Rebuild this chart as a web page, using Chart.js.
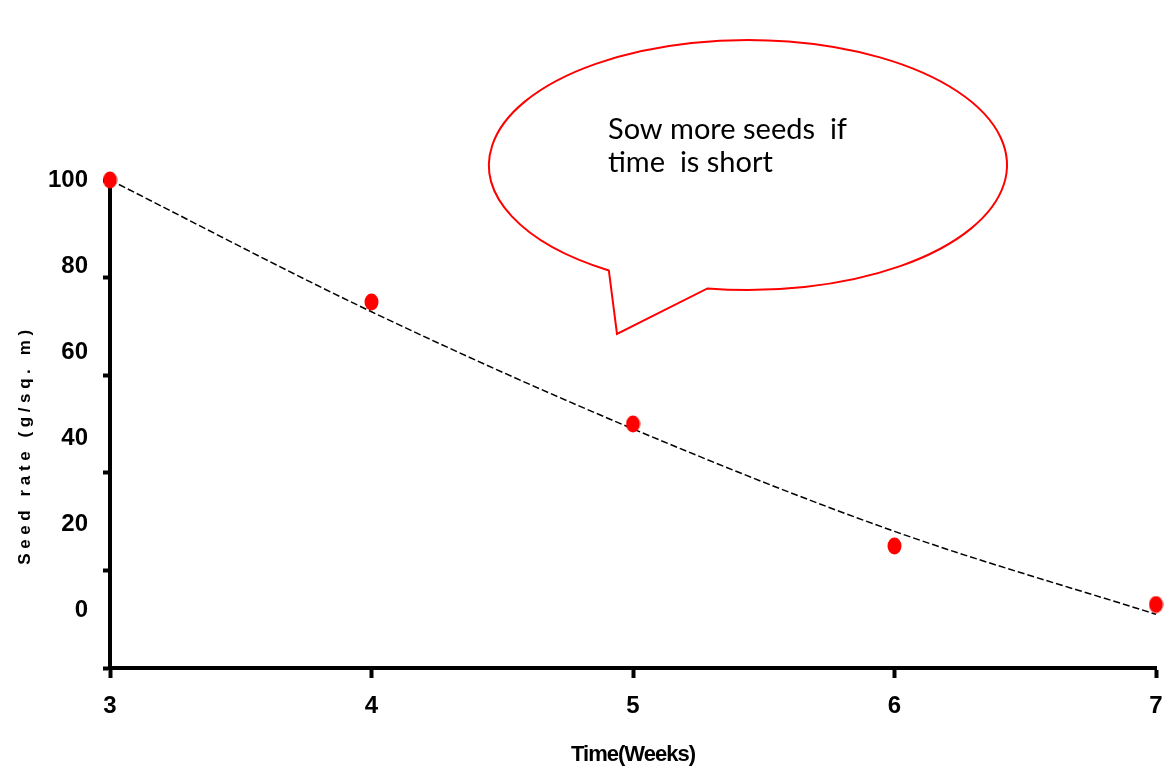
<!DOCTYPE html>
<html>
<head>
<meta charset="utf-8">
<script src="https://cdn.jsdelivr.net/npm/chart.js"></script>
<style>
  html, body { margin: 0; padding: 0; background: #fff; }
  canvas { display: block; }
</style>
</head>
<body>
<canvas id="seedChart" width="1165" height="771"></canvas>
<script>
// weeks available (x axis)
const weeks = [3, 4, 5, 6, 7];
// seed rate
const seedRate = [100, 75, 50, 25, 13];
// dashed trend line
const trendRate = [100, 73, 49, 28, 11];
// labels printed beside the y axis
const yTickLabels = [0, 20, 40, 60, 80, 100];
// callout text
const calloutLines = ['Sow more seeds  if', 'time  is short'];

const FONT = "'Liberation Sans', Arial, sans-serif";

// red dots are slightly taller than wide
function dotImage() {
    const c = document.createElement('canvas');
    c.width = 15; c.height = 18;
    const g = c.getContext('2d');
    g.fillStyle = '#ff0000';
    g.beginPath();
    g.ellipse(7.5, 9, 7, 8.5, 0, 0, Math.PI * 2);
    g.fill();
    return c;
}

// letter spacing for axis titles (chart.js has no option for it)
function spaceTitle(scale, spacing, shiftY) {
    if (!scale || scale._spaced) return;
    const orig = scale.drawTitle;
    scale.drawTitle = function () {
        const ctx = this.ctx;
        ctx.save();
        ctx.letterSpacing = spacing;
        ctx.translate(0, shiftY);
        orig.call(this);
        ctx.restore();
    };
    scale._spaced = true;
}

const titleSpacing = {
    id: 'titleSpacing',
    beforeDraw(chart) {
        spaceTitle(chart.scales.x, '-1px', 0);
        spaceTitle(chart.scales.yl, '4.6px', 21);
    }
};

// speech bubble
const callout = {
    id: 'callout',
    afterDraw(chart) {
        const ctx = chart.ctx;
        const cx = 748, cy = 165, rx = 259, ry = 125;
        const a1 = 99 * Math.PI / 180, a2 = 122.5 * Math.PI / 180;
        ctx.save();
        ctx.beginPath();
        ctx.ellipse(cx, cy, rx, ry, 0, a1, a2, true);
        ctx.lineTo(617, 334);
        ctx.closePath();
        ctx.fillStyle = '#ffffff';
        ctx.fill();
        ctx.strokeStyle = '#ff0000';
        ctx.lineWidth = 2;
        ctx.stroke();

        ctx.fillStyle = '#000';
        ctx.font = "29px Lato, 'Open Sans', sans-serif";
        ctx.textAlign = 'left';
        ctx.textBaseline = 'alphabetic';
        calloutLines.forEach((t, i) => ctx.fillText(t, 608, 139 + i * 33));
        ctx.restore();
    }
};

new Chart(document.getElementById('seedChart'), {
    type: 'line',
    data: {
        datasets: [{
            label: 'Seed rate',
            data: weeks.map((w, i) => ({ x: w, y: seedRate[i] })),
            showLine: false,
            pointStyle: dotImage(),
            pointRadius: 8,
            clip: false
        }, {
            label: 'Trend',
            data: weeks.map((w, i) => ({ x: w, y: trendRate[i] })),
            borderColor: '#000',
            borderWidth: 1.5,
            borderDash: [7, 3],
            pointRadius: 0,
            cubicInterpolationMode: 'monotone',
            fill: false,
            clip: false
        }]
    },
    options: {
        responsive: false,
        animation: false,
        events: [],
        layout: { padding: { top: 180, right: 8, left: 0, bottom: 0 } },
        plugins: {
            legend: { display: false },
            tooltip: { enabled: false }
        },
        scales: {
            x: {
                type: 'linear',
                min: 3,
                max: 7,
                ticks: {
                    stepSize: 1,
                    color: '#000',
                    font: { family: FONT, size: 24, weight: 'bold' },
                    padding: 14
                },
                grid: {
                    drawOnChartArea: false,
                    tickLength: 10,
                    tickWidth: 4,
                    tickColor: '#000'
                },
                border: { color: '#000', width: 4 },
                title: {
                    display: true,
                    text: 'Time(Weeks)',
                    color: '#000',
                    font: { family: FONT, size: 22, weight: 'bold' },
                    padding: { top: 0, bottom: 3 }
                },
                afterFit(scale) {
                    scale.height = 103;
                    scale.paddingLeft = 0;
                    scale.paddingRight = 0;
                }
            },
            // data axis: tick marks and axis line only
            y: {
                type: 'linear',
                position: 'left',
                weight: 0,
                min: 0,
                max: 100,
                ticks: { stepSize: 20, display: false },
                grid: {
                    drawOnChartArea: false,
                    tickLength: 7,
                    tickWidth: 4,
                    tickColor: '#000'
                },
                border: { color: '#000', width: 4 },
                afterFit(scale) { scale.width = 8; }
            },
            // label axis: the printed numbers sit a bit off the tick marks
            yl: {
                type: 'linear',
                position: 'left',
                weight: 1,
                min: -13.5,
                max: 100,
                afterBuildTicks(scale) {
                    scale.ticks = yTickLabels.map(v => ({ value: v }));
                },
                ticks: {
                    color: '#000',
                    font: { family: FONT, size: 24, weight: 'bold' },
                    padding: 6
                },
                grid: { display: false },
                border: { display: false },
                title: {
                    display: true,
                    text: 'Seed rate (g/sq. m)',
                    color: '#000',
                    font: { family: FONT, size: 17, weight: 'bold' },
                    padding: { top: 15, bottom: 0 }
                },
                afterFit(scale) {
                    scale.width = 102;
                    scale.paddingTop = 0;
                    scale.paddingBottom = 0;
                }
            }
        }
    },
    plugins: [titleSpacing, callout]
});
</script>
</body>
</html>
